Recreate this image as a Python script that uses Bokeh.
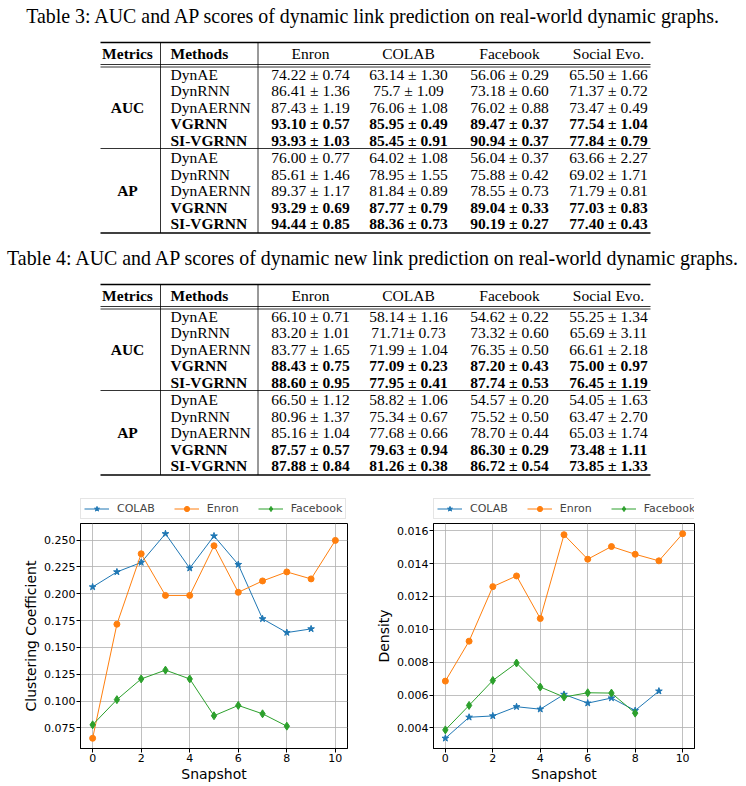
from bokeh.plotting import figure
from bokeh.models import Range1d, FixedTicker, NumeralTickFormatter, Legend, LegendItem
from bokeh.layouts import column, row
from bokeh.embed import file_html
from bokeh.resources import INLINE
from bokeh.core.properties import value

# ---------------- table data ----------------
datasets = ["Enron", "COLAB", "Facebook", "Social Evo."]
methods = ["DynAE", "DynRNN", "DynAERNN", "VGRNN", "SI-VGRNN"]
metrics = ["AUC", "AP"]
bold_methods = ["VGRNN", "SI-VGRNN"]

t3_title = "Table 3: AUC and AP scores of dynamic link prediction on real-world dynamic graphs."
t4_title = "Table 4: AUC and AP scores of dynamic new link prediction on real-world dynamic graphs."

# each list: AUC block (5 methods) then AP block (5 methods)
t3_enron = ["74.22 ± 0.74", "86.41 ± 1.36", "87.43 ± 1.19", "93.10 ± 0.57", "93.93 ± 1.03",
            "76.00 ± 0.77", "85.61 ± 1.46", "89.37 ± 1.17", "93.29 ± 0.69", "94.44 ± 0.85"]
t3_colab = ["63.14 ± 1.30", "75.7 ± 1.09", "76.06 ± 1.08", "85.95 ± 0.49", "85.45 ± 0.91",
            "64.02 ± 1.08", "78.95 ± 1.55", "81.84 ± 0.89", "87.77 ± 0.79", "88.36 ± 0.73"]
t3_facebook = ["56.06 ± 0.29", "73.18 ± 0.60", "76.02 ± 0.88", "89.47 ± 0.37", "90.94 ± 0.37",
               "56.04 ± 0.37", "75.88 ± 0.42", "78.55 ± 0.73", "89.04 ± 0.33", "90.19 ± 0.27"]
t3_social = ["65.50 ± 1.66", "71.37 ± 0.72", "73.47 ± 0.49", "77.54 ± 1.04", "77.84 ± 0.79",
             "63.66 ± 2.27", "69.02 ± 1.71", "71.79 ± 0.81", "77.03 ± 0.83", "77.40 ± 0.43"]

t4_enron = ["66.10 ± 0.71", "83.20 ± 1.01", "83.77 ± 1.65", "88.43 ± 0.75", "88.60 ± 0.95",
            "66.50 ± 1.12", "80.96 ± 1.37", "85.16 ± 1.04", "87.57 ± 0.57", "87.88 ± 0.84"]
t4_colab = ["58.14 ± 1.16", "71.71± 0.73", "71.99 ± 1.04", "77.09 ± 0.23", "77.95 ± 0.41",
            "58.82 ± 1.06", "75.34 ± 0.67", "77.68 ± 0.66", "79.63 ± 0.94", "81.26 ± 0.38"]
t4_facebook = ["54.62 ± 0.22", "73.32 ± 0.60", "76.35 ± 0.50", "87.20 ± 0.43", "87.74 ± 0.53",
               "54.57 ± 0.20", "75.52 ± 0.50", "78.70 ± 0.44", "86.30 ± 0.29", "86.72 ± 0.54"]
t4_social = ["55.25 ± 1.34", "65.69 ± 3.11", "66.61 ± 2.18", "75.00 ± 0.97", "76.45 ± 1.19",
             "54.05 ± 1.63", "63.47 ± 2.70", "65.03 ± 1.74", "73.48 ± 1.11", "73.85 ± 1.33"]

# ---------------- chart data ----------------
series_names = ["COLAB", "Enron", "Facebook"]
snap_colab = [0, 1, 2, 3, 4, 5, 6, 7, 8, 9]
snap_enron = [0, 1, 2, 3, 4, 5, 6, 7, 8, 9, 10]
snap_facebook = [0, 1, 2, 3, 4, 5, 6, 7, 8]

cc_colab = [0.2063, 0.2203, 0.2291, 0.2559, 0.2238, 0.2538, 0.2272, 0.1766, 0.1638, 0.1672]
cc_enron = [0.0653, 0.1716, 0.2372, 0.1984, 0.1984, 0.2447, 0.2013, 0.2119, 0.2203, 0.2138, 0.2497]
cc_facebook = [0.0778, 0.1013, 0.1206, 0.1288, 0.1206, 0.0863, 0.0959, 0.0881, 0.0766]

den_colab = [0.00337, 0.00465, 0.00473, 0.00529, 0.00514, 0.00604, 0.00551, 0.00582, 0.00506, 0.00624]
den_enron = [0.00685, 0.00928, 0.01260, 0.01325, 0.01066, 0.01576, 0.01427, 0.01504, 0.01457, 0.01417, 0.01582]
den_facebook = [0.00388, 0.00537, 0.00689, 0.00795, 0.00649, 0.00588, 0.00614, 0.00612, 0.00490]

cc_ticks = [0.075, 0.100, 0.125, 0.150, 0.175, 0.200, 0.225, 0.250]
den_ticks = [0.004, 0.006, 0.008, 0.010, 0.012, 0.014, 0.016]
snap_ticks = [0, 2, 4, 6, 8, 10]

# ---------------- tables figure ----------------
SERIF = "Liberation Serif"
TW, TH = 746, 490
tf = figure(width=TW, height=TH, x_range=Range1d(0, TW), y_range=Range1d(TH, 0),
            x_axis_type=None, y_axis_type=None, output_backend="svg",
            toolbar_location=None, min_border=0, title=None)
tf.grid.visible = False
tf.outline_line_color = None
tf.background_fill_color = "white"
tf.border_fill_color = "white"


def txt(xs, ys, texts, size, bold=False, align="center", font=SERIF):
    tf.text(x=xs, y=ys, text=texts,
            text_font=value(font), text_font_size=value(f"{size}px"),
            text_font_style=value("bold" if bold else "normal"),
            text_align=value(align), text_baseline=value("middle"),
            text_color="black")


def hline(x0, x1, y, w):
    tf.segment(x0=[x0], y0=[y], x1=[x1], y1=[y], line_color="black", line_width=w)


def vline(x, y0, y1, w=0.8):
    tf.segment(x0=[x], y0=[y0], x1=[x], y1=[y1], line_color="black", line_width=w)


col_x = [310, 408, 509, 608]
FS = 15.5
TITLE_FS = 19.9
L, R = 100, 650
VX1, VX2 = 160, 257.5


def draw_table(dy, title, cols):
    txt([373.5], [15 + dy], [title], TITLE_FS)
    hline(L, R, 42 + dy, 1.3)
    hline(L, R, 64 + dy, 0.8)
    hline(L, R, 66.5 + dy, 0.8)
    hline(L, R, 148 + dy, 0.8)
    hline(L, R, 232.5 + dy, 1.3)
    vline(VX1, 42 + dy, 232.5 + dy)
    vline(VX2, 42 + dy, 232.5 + dy)
    # header
    txt([127], [53 + dy], ["Metrics"], FS, bold=True)
    txt([170], [53 + dy], ["Methods"], FS, bold=True, align="left")
    txt(col_x, [53 + dy] * 4, datasets, FS)
    auc_rows = [73.5, 90, 106.5, 123, 139.5]
    ap_rows = [157, 173.5, 190, 206.5, 223]
    for bi, rows in enumerate([auc_rows, ap_rows]):
        txt([127], [rows[2] + dy], [metrics[bi]], FS, bold=True)
        for mi, m in enumerate(methods):
            b = m in bold_methods
            yy = rows[mi] + dy
            txt([170], [yy], [m], FS, bold=b, align="left")
            k = bi * 5 + mi
            txt(col_x, [yy] * 4, [c[k] for c in cols], FS, bold=b)


draw_table(0, t3_title, [t3_enron, t3_colab, t3_facebook, t3_social])
draw_table(242, t4_title, [t4_enron, t4_colab, t4_facebook, t4_social])

# ---------------- charts ----------------
SANS = "DejaVu Sans"
COLORS = ["#1f77b4", "#ff7f0e", "#2ca02c"]
MARKERS = ["star", "circle", "diamond"]
MSIZES = [7, 6, 8]
CH_W = 373
LEG_H = 33
PLOT_H = 296 - LEG_H
MB_BOT = 38
SNAPS = [snap_colab, snap_enron, snap_facebook]


def padded(series):
    lo = min(min(s) for s in series)
    hi = max(max(s) for s in series)
    m = (hi - lo) * 0.05
    return lo - m, hi + m


def legend_fig(ys_list, mleft, mright):
    # legend strip above the chart; its series copies lie outside this strip's view
    lf = figure(width=CH_W, height=LEG_H, x_range=Range1d(-100, -99), y_range=Range1d(0, 1),
                x_axis_type=None, y_axis_type=None, output_backend="svg",
                toolbar_location=None, title=None,
                min_border_left=mleft, min_border_right=mright,
                min_border_top=0, min_border_bottom=4)
    lf.grid.visible = False
    lf.outline_line_color = None
    lf.background_fill_color = "white"
    lf.border_fill_color = "white"
    items = []
    for name, xs, ys, c, mk, ms in zip(series_names, SNAPS, ys_list, COLORS, MARKERS, MSIZES):
        lr = lf.line(xs, ys, line_color=c, line_width=1.0)
        sr = lf.scatter(xs, ys, marker=mk, size=ms, fill_color=c, line_color=c)
        items.append(LegendItem(label=name, renderers=[lr, sr]))
    leg = Legend(items=items, orientation="horizontal", location="bottom_left",
                 margin=0, padding=3, spacing=19, glyph_width=25, glyph_height=13,
                 label_height=13, label_standoff=8,
                 label_text_font=SANS, label_text_font_size="11px",
                 border_line_color="#cccccc", border_line_width=1,
                 background_fill_color="white", background_fill_alpha=0.8)
    lf.add_layout(leg, "center")
    return lf


def chart(ys_list, yticks, ylabel, mleft, mright):
    lo, hi = padded(ys_list)
    p = figure(width=CH_W, height=PLOT_H, x_range=Range1d(-0.5, 10.5), y_range=Range1d(lo, hi),
               output_backend="svg", toolbar_location=None, title=None,
               min_border_left=mleft, min_border_right=mright,
               min_border_top=0, min_border_bottom=MB_BOT)
    p.background_fill_color = "white"
    p.border_fill_color = "white"
    p.outline_line_color = "black"
    p.outline_line_width = 1
    p.grid.grid_line_color = "#b0b0b0"
    p.grid.grid_line_width = 0.8
    p.xaxis.ticker = FixedTicker(ticks=snap_ticks)
    p.yaxis.ticker = FixedTicker(ticks=yticks)
    p.yaxis.formatter = NumeralTickFormatter(format="0.000")
    for ax in p.axis:
        ax.axis_line_color = "black"
        ax.major_tick_line_color = "black"
        ax.major_tick_in = 0
        ax.major_tick_out = 4
        ax.minor_tick_line_color = None
        ax.major_label_text_font = SANS
        ax.major_label_text_font_size = "11px"
        ax.major_label_text_color = "black"
        ax.axis_label_text_font = SANS
        ax.axis_label_text_font_size = "14px"
        ax.axis_label_text_font_style = "normal"
        ax.axis_label_text_color = "black"
    p.xaxis.major_label_standoff = 1
    p.yaxis.major_label_standoff = 1
    p.xaxis.axis_label = "Snapshot"
    p.xaxis.axis_label_standoff = 1
    p.yaxis.axis_label = ylabel
    p.yaxis.axis_label_standoff = 2

    for xs, ys, c, mk, ms in zip(SNAPS, ys_list, COLORS, MARKERS, MSIZES):
        p.line(xs, ys, line_color=c, line_width=1.0)
        p.scatter(xs, ys, marker=mk, size=ms, fill_color=c, line_color=c)
    return column(legend_fig(ys_list, mleft, mright), p)


c1 = chart([cc_colab, cc_enron, cc_facebook], cc_ticks, "Clustering Coefficient", 80, 26)
c2 = chart([den_colab, den_enron, den_facebook], den_ticks, "Density", 53, 52)

layout = column(tf, row(c1, c2))
open("out.html", "w").write(file_html(layout, INLINE))
